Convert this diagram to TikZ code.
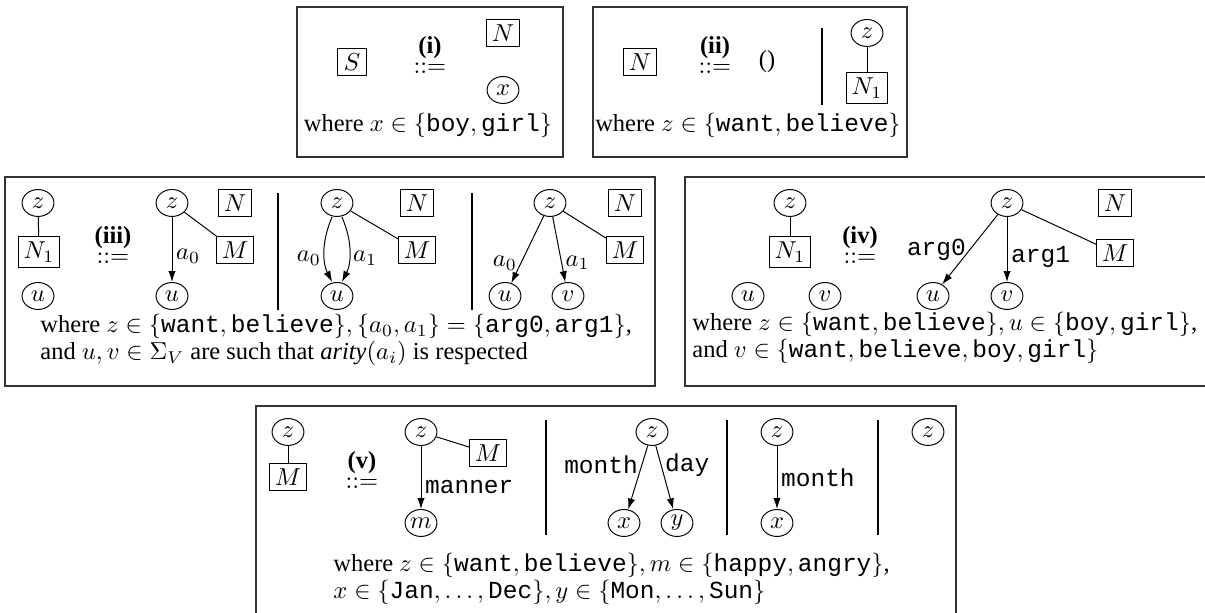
\documentclass[tikz,border=0pt]{standalone}
\usepackage{fontspec}
\setmainfont{Liberation Serif}
\setmonofont{Liberation Mono}
\usetikzlibrary{shapes.geometric,arrows.meta}
\begin{document}
\begin{tikzpicture}[x=0.4082pt,y=-0.4082pt,
  var/.style={ellipse,draw,inner sep=0pt,minimum width=13pt,minimum height=11pt},
  nt/.style={rectangle,draw,inner sep=2pt,minimum height=11pt,minimum width=12pt},
  op/.style={align=center,inner sep=0pt,font=\fontsize{10}{8.2}\selectfont},
  lbl/.style={inner sep=1.5pt},
  arr/.style={-{Latex[length=4.5pt,width=3pt]}},
  frame/.style={draw=black!80,line width=0.6pt},
  sep/.style={draw,line width=0.5pt},
  txt/.style={align=left,inner sep=0pt,font=\fontsize{10}{8.8}\selectfont}]
\useasboundingbox (0,0) rectangle (1205,613);

% ---------- (i)
\draw[frame] (297,7) rectangle (563,157);
\node[nt] (S1) at (352,62) {$S$};
\node[op] (op1) at (430,55) {\textbf{(i)}\\$::=$};
\node[nt] (N1) at (503,33) {$N$};
\node[var] (x1) at (503,90) {$x$};
\node[txt] (w1) at (428,125) {where $x\in\{\texttt{boy},\texttt{girl}\}$};

% ---------- (ii)
\draw[frame] (593,7) rectangle (907,157);
\node[nt] (N2) at (640,62) {$N$};
\node[op] (op2) at (715,55) {\textbf{(ii)}\\$::=$};
\node (e2) at (767,62) {()};
\draw[sep] (822,28) -- (822,105);
\node[var] (z2) at (867,33) {$z$};
\node[nt] (N2b) at (867,88) {$N_1$};
\draw (z2) -- (N2b);
\node[txt] (w2) at (748,125) {where $z\in\{\texttt{want},\texttt{believe}\}$};

% ---------- (iii)
\draw[frame] (5,177) rectangle (655,386);
\node[var] (z3a) at (38,203) {$z$};
\node[nt] (N3a) at (39,252) {$N_1$};
\node[var] (u3a) at (38,296) {$u$};
\draw (z3a) -- (N3a);
\node[op] (op3) at (113,245) {\textbf{(iii)}\\$::=$};
\node[var] (z3b) at (172,203) {$z$};
\node[nt] (N3b) at (235,203) {$N$};
\node[nt] (M3b) at (235,250) {$M$};
\node[var] (u3b) at (172,296) {$u$};
\draw (z3b) -- (M3b);
\draw[arr] (z3b) -- node[lbl,right,pos=0.6] {$a_0$} (u3b);
\draw[sep] (278,193) -- (278,310);
\node[var] (z3c) at (337,203) {$z$};
\node[nt] (N3c) at (417,203) {$N$};
\node[nt] (M3c) at (417,250) {$M$};
\node[var] (u3c) at (337,296) {$u$};
\draw (z3c) -- (M3c);
\draw[arr] ([xshift=-2pt]z3c.south) .. controls (322,240) and (322,262) .. ([xshift=-2pt]u3c.north) node[lbl,left,pos=0.62] {$a_0$};
\draw[arr] ([xshift=2pt]z3c.south) .. controls (352,240) and (352,262) .. ([xshift=2pt]u3c.north) node[lbl,right,pos=0.62] {$a_1$};
\draw[sep] (472,193) -- (472,310);
\node[var] (z3d) at (550,203) {$z$};
\node[nt] (N3d) at (625,203) {$N$};
\node[nt] (M3d) at (625,250) {$M$};
\node[var] (u3d) at (505,296) {$u$};
\node[var] (v3d) at (568,296) {$v$};
\draw (z3d) -- (M3d);
\draw[arr] (z3d) -- node[lbl,left,pos=0.7] {$a_0$} (u3d);
\draw[arr] (z3d) -- node[lbl,right,pos=0.7] {$a_1$} (v3d);
\node[txt,anchor=west] (w3) at (40,340) {where $z\in\{\texttt{want},\texttt{believe}\}, \{a_0,a_1\}=\{\texttt{arg0},\texttt{arg1}\}$,\\
and $u,v\in\Sigma_V$ are such that $\mathit{arity}(a_i)$ is respected};

% ---------- (iv)
\draw[frame] (1205,177) -- (685,177) -- (685,386) -- (1205,386);
\node[var] (z4a) at (790,203) {$z$};
\node[nt] (N4a) at (790,252) {$N_1$};
\node[var] (u4a) at (748,296) {$u$};
\node[var] (v4a) at (825,296) {$v$};
\draw (z4a) -- (N4a);
\node[op] (op4) at (860,245) {\textbf{(iv)}\\$::=$};
\node[var] (z4b) at (1007,203) {$z$};
\node[nt] (N4b) at (1115,203) {$N$};
\node[nt] (M4b) at (1115,253) {$M$};
\node[var] (u4b) at (933,296) {$u$};
\node[var] (v4b) at (1007,296) {$v$};
\draw (z4b) -- (M4b);
\draw[arr] (z4b) -- node[lbl,left,pos=0.5] {\texttt{arg0}} (u4b);
\draw[arr] (z4b) -- node[lbl,right,pos=0.62] {\texttt{arg1}} (v4b);
\node[txt,anchor=west] (w4) at (692,338) {where $z\in\{\texttt{want},\texttt{believe}\}, u\in\{\texttt{boy},\texttt{girl}\}$,\\
and $v\in\{\texttt{want},\texttt{believe},\texttt{boy},\texttt{girl}\}$};

% ---------- (v)
\draw[frame] (256,613) -- (256,406) -- (956,406) -- (956,613);
\node[var] (z5a) at (288,432) {$z$};
\node[nt] (M5a) at (288,477) {$M$};
\draw (z5a) -- (M5a);
\node[op] (op5) at (362,470) {\textbf{(v)}\\$::=$};
\node[var] (z5b) at (421,432) {$z$};
\node[nt] (M5b) at (488,453) {$M$};
\node[var] (m5b) at (421,523) {$m$};
\draw (z5b) -- (M5b);
\draw[arr] (z5b) -- node[lbl,right,pos=0.65] {\texttt{manner}} (m5b);
\draw[sep] (546,420) -- (546,535);
\node[var] (z5c) at (652,432) {$z$};
\node[var] (x5c) at (624,523) {$x$};
\node[var] (y5c) at (677,523) {$y$};
\draw[arr] (z5c) -- node[lbl,left,pos=0.3] {\texttt{month}} (x5c);
\draw[arr] (z5c) -- node[lbl,right,pos=0.3] {\texttt{day}} (y5c);
\draw[sep] (727,420) -- (727,535);
\node[var] (z5d) at (777,432) {$z$};
\node[var] (x5d) at (777,523) {$x$};
\draw[arr] (z5d) -- node[lbl,right,pos=0.5] {\texttt{month}} (x5d);
\draw[sep] (878,420) -- (878,535);
\node[var] (z5e) at (928,432) {$z$};
\node[txt,anchor=west] (w5) at (333,579) {where $z\in\{\texttt{want},\texttt{believe}\}, m\in\{\texttt{happy},\texttt{angry}\}$,\\
$x\in\{\texttt{Jan},\ldots,\texttt{Dec}\}, y\in\{\texttt{Mon},\ldots,\texttt{Sun}\}$};
\end{tikzpicture}
\end{document}
